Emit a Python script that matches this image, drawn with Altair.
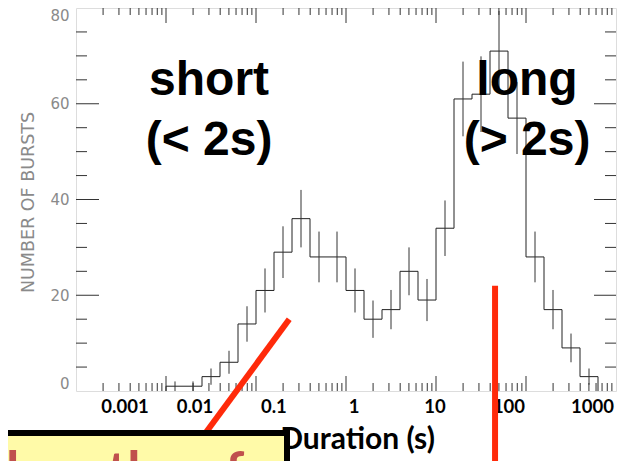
import altair as alt
import pandas as pd

# ---------------- data ----------------
# histogram of burst durations, 0.2-decade bins (log10 of bin edges)
bin_log_edges = [-2.0, -1.8, -1.6, -1.4, -1.2, -1.0, -0.8, -0.6, -0.4, -0.2,
                 0.0, 0.2, 0.4, 0.6, 0.8, 1.0, 1.2, 1.4, 1.6, 1.8,
                 2.0, 2.2, 2.4, 2.6, 2.8]
counts = [1, 1, 3, 6, 14, 21, 29, 36, 28, 28, 21, 15, 17, 25, 19,
          34, 61, 62, 71, 57, 28, 17, 9, 3]
errors = [1, 1, 1.7, 2.4, 3.7, 4.6, 5.4, 6, 5.3, 5.3, 4.6, 3.9, 4.1, 5, 4.4,
          5.8, 7.8, 7.9, 8.4, 7.5, 5.3, 4.1, 3, 1.7]

# x tick label texts and where they sit on the duration axis
x_labels = ["0.001", "0.01", "0.1", "1", "10", "100", "1000"]
x_label_pos = [0.0035, 0.021, 0.158, 1.23, 9.75, 64.7, 548]

y_label_values = [0, 20, 40, 60, 80]

x_major = [0.01, 0.1, 1, 10, 100]
x_minor = [k * 10.0 ** d for d in range(-3, 3) for k in range(2, 10)]
y_major = [20, 40, 60]
y_minor = [5, 10, 15, 25, 30, 35, 45, 50, 55, 65, 70, 75]

# annotations
ann_text = ["short", "(< 2s)", "long", "(> 2s)"]
ann_x = [0.0301, 0.0301, 102.6, 102.6]
ann_y = [61.8, 49.3, 61.8, 49.3]

# red pointer lines (duration, count) start/end
red_x = [0.234, 45.3]
red_y = [14.98, 22.0]
red_x2 = [0.0242, 45.3]
red_y2 = [-10.2, -16.0]

box_text = "lengths of"

# ---------------- build tables ----------------
step_x = [10 ** bin_log_edges[0]] + [10 ** e for e in bin_log_edges]
step_y = [0] + counts + [0]
df_step = pd.DataFrame({"x": step_x, "y": step_y, "o": list(range(len(step_x)))})

centers = [10 ** (e + 0.1) for e in bin_log_edges[:-1]]
df_err = pd.DataFrame({"x": centers,
                       "lo": [c - e for c, e in zip(counts, errors)],
                       "hi": [c + e for c, e in zip(counts, errors)]})

df_xmaj = pd.DataFrame({"x": x_major})
df_xmin = pd.DataFrame({"x": x_minor})
df_ymaj = pd.DataFrame({"y": y_major})
df_ymin = pd.DataFrame({"y": y_minor})

df_xlab = pd.DataFrame({"x": x_label_pos, "t": x_labels})
df_ann = pd.DataFrame({"x": ann_x, "y": ann_y, "t": ann_text})
df_red = pd.DataFrame({"x": red_x, "y": red_y, "x2": red_x2, "y2": red_y2})

W, H = 540, 383
xs = alt.Scale(type="log", domain=[0.001, 1000], nice=False)
ys = alt.Scale(domain=[0, 80], nice=False, zero=True)


def X(f, **kw):
    return alt.X(f, type="quantitative", scale=xs, **kw)


def Y(f, **kw):
    return alt.Y(f, type="quantitative", scale=ys, **kw)


x_axis = alt.Axis(title="Duration (s)", labels=False, ticks=False, domain=False, grid=False,
                  titleFont="Lato", titleFontWeight="bold", titleFontSize=30,
                  titleColor="black", titleX=281, titleY=57, titleBaseline="alphabetic",
                  titleAlign="center")
y_axis = alt.Axis(values=y_label_values, ticks=False, tickSize=0, domain=False, grid=False,
                  labelFont="DejaVu Sans", labelFontSize=15, labelColor="#8a8a8a",
                  labelPadding=7, labelFlush=True,
                  title="NUMBER OF BURSTS", titleFont="DejaVu Sans", titleFontWeight="normal",
                  titleFontSize=17.5, titleColor="#8a8a8a", titleX=-43, titleY=194,
                  titleBaseline="alphabetic", titleAlign="center")

step = alt.Chart(df_step).mark_line(interpolate="step-after", color="#222", strokeWidth=1).encode(
    x=X("x", axis=x_axis), y=Y("y", axis=y_axis), order="o:Q")

err = alt.Chart(df_err).mark_rule(color="#333", strokeWidth=1).encode(
    x=X("x"), y=Y("lo"), y2="hi")

tick_col = "#333"
t_xmaj_b = alt.Chart(df_xmaj).mark_rule(color=tick_col, strokeWidth=1).encode(
    x=X("x"), y=alt.value(H), y2=alt.value(H - 15))
t_xmaj_t = alt.Chart(df_xmaj).mark_rule(color=tick_col, strokeWidth=1).encode(
    x=X("x"), y=alt.value(0), y2=alt.value(15))
t_xmin_b = alt.Chart(df_xmin).mark_rule(color=tick_col, strokeWidth=1).encode(
    x=X("x"), y=alt.value(H), y2=alt.value(H - 8))
t_xmin_t = alt.Chart(df_xmin).mark_rule(color=tick_col, strokeWidth=1).encode(
    x=X("x"), y=alt.value(0), y2=alt.value(7))
t_ymaj_l = alt.Chart(df_ymaj).mark_rule(color=tick_col, strokeWidth=1).encode(
    y=Y("y"), x=alt.value(0), x2=alt.value(23))
t_ymaj_r = alt.Chart(df_ymaj).mark_rule(color=tick_col, strokeWidth=1).encode(
    y=Y("y"), x=alt.value(W), x2=alt.value(W - 22))
t_ymin_l = alt.Chart(df_ymin).mark_rule(color=tick_col, strokeWidth=1).encode(
    y=Y("y"), x=alt.value(0), x2=alt.value(11))
t_ymin_r = alt.Chart(df_ymin).mark_rule(color=tick_col, strokeWidth=1).encode(
    y=Y("y"), x=alt.value(W), x2=alt.value(W - 11))

xlab = alt.Chart(df_xlab).mark_text(font="Lato", fontWeight="bold", fontSize=18.5, color="black",
                                    align="center", baseline="alphabetic").encode(
    x=X("x"), y=alt.value(404.5), text="t")

ann = alt.Chart(df_ann).mark_text(font="Liberation Sans", fontWeight="bold", fontSize=48,
                                  color="black", align="center", baseline="alphabetic").encode(
    x=X("x"), y=Y("y"), text="t")

red = alt.Chart(df_red).mark_rule(color="#ff2a0a", strokeWidth=6).encode(
    x=X("x"), y=Y("y"), x2="x2", y2="y2")

box = alt.Chart(pd.DataFrame({"a": [0]})).mark_rect(fill="#fffaa8", stroke="black", strokeWidth=6).encode(
    x=alt.value(-100), x2=alt.value(211), y=alt.value(425), y2=alt.value(520))

box_t = alt.Chart(pd.DataFrame({"t": [box_text]})).mark_text(
    font="Lato", fontWeight="bold", fontSize=54, color="#c0504d", align="left",
    baseline="alphabetic").encode(x=alt.value(-70), y=alt.value(482), text="t")

chart = alt.layer(step, err, t_xmaj_b, t_xmaj_t, t_xmin_b, t_xmin_t, t_ymaj_l, t_ymaj_r,
                  t_ymin_l, t_ymin_r, ann, xlab, red, box, box_t).properties(
    width=W, height=H,
    padding={"left": 68, "top": 0, "right": 6, "bottom": 70},
    autosize=alt.AutoSizeParams(type="none"),
).configure_view(stroke="#222", strokeWidth=1).configure(background="white")

chart.save("out.html", embed_options={"renderer": "svg", "actions": False})
